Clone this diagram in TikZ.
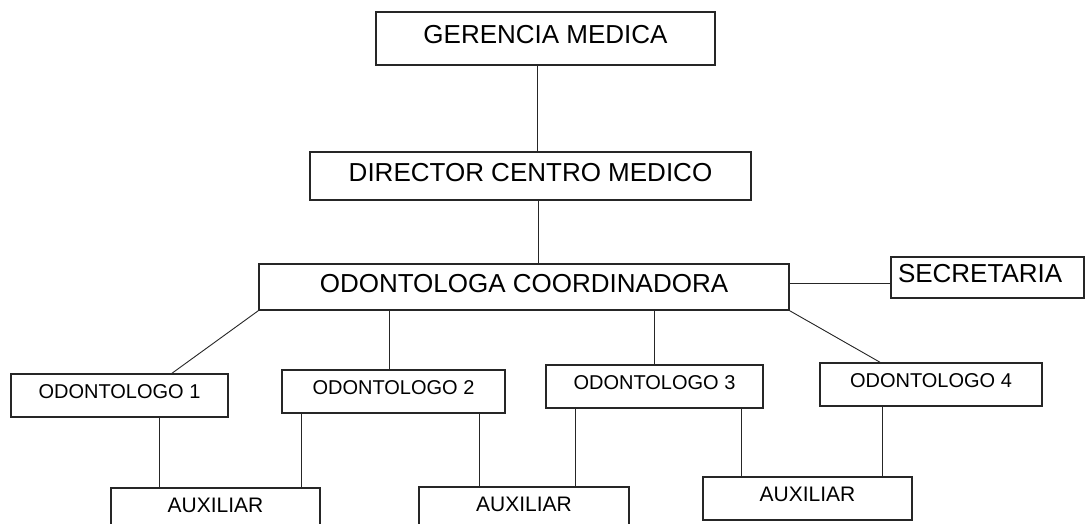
\documentclass[tikz,border=0pt]{standalone}
\usepackage{fontspec}
\setmainfont{Liberation Sans}
\begin{document}
\begin{tikzpicture}[x=1pt,y=-1pt,
  box/.style={draw=black!85, line width=1.5pt, inner sep=0pt, anchor=center, text depth=8pt},
  bigtxt/.style={font=\fontsize{26}{28}\selectfont},
  midtxt/.style={font=\fontsize{20}{22}\selectfont},
  auxtxt/.style={font=\fontsize{21}{23}\selectfont},
  conn/.style={draw=black!85, line width=0.9pt}]
\useasboundingbox (0,0) rectangle (1088,524);
\clip (0,0) rectangle (1088,524);
\fill[white] (0,0) rectangle (1088,524);
% top levels
\node[box,bigtxt,minimum width=339pt,minimum height=53pt] (gm) at (545.5,38.5) {GERENCIA MEDICA};
\node[box,bigtxt,minimum width=441pt,minimum height=48pt] (dir) at (530.5,176) {DIRECTOR CENTRO MEDICO};
\node[box,bigtxt,minimum width=530pt,minimum height=46pt] (odc) at (524,287) {ODONTOLOGA COORDINADORA};
\node[box,bigtxt,minimum width=193pt,minimum height=41pt,text width=179pt,align=left] (sec) at (987.5,277.5) {SECRETARIA};
% odontologos
\node[box,midtxt,minimum width=217pt,minimum height=43pt] (od1) at (119.5,395.5) {ODONTOLOGO 1};
\node[box,midtxt,minimum width=223pt,minimum height=43pt] (od2) at (393.5,391.5) {ODONTOLOGO 2};
\node[box,midtxt,minimum width=217pt,minimum height=43pt] (od3) at (654.5,386.5) {ODONTOLOGO 3};
\node[box,midtxt,minimum width=222pt,minimum height=43pt] (od4) at (931,384.5) {ODONTOLOGO 4};
% auxiliares
\node[box,auxtxt,minimum width=209pt,minimum height=43pt] (aux1) at (215.5,509.5) {AUXILIAR};
\node[box,auxtxt,minimum width=210pt,minimum height=43pt] (aux2) at (524,508.5) {AUXILIAR};
\node[box,auxtxt,minimum width=209pt,minimum height=43pt] (aux3) at (807.5,498.5) {AUXILIAR};
% connectors
\draw[conn] ([xshift=-8.5pt]gm.south) -- ([xshift=-8.5pt]gm.south |- dir.north);
\draw[conn] ([xshift=7.5pt]dir.south) -- ([xshift=7.5pt]dir.south |- odc.north);
\draw[conn] ([yshift=4pt]odc.east) -- ([yshift=4pt]odc.east -| sec.west);
\draw[conn] (odc.south west) -- ([xshift=52.5pt]od1.north);
\draw[conn] ([xshift=-4.5pt]od2.north |- odc.south) -- ([xshift=-4.5pt]od2.north);
\draw[conn] (od3.north |- odc.south) -- (od3.north);
\draw[conn] (odc.south east) -- ([xshift=-51pt]od4.north);
\draw[conn] ([xshift=39.5pt]od1.south) -- ([xshift=39.5pt]od1.south |- aux1.north);
\draw[conn] ([xshift=-92.5pt]od2.south) -- ([xshift=-92.5pt]od2.south |- aux1.north);
\draw[conn] ([xshift=85.5pt]od2.south) -- ([xshift=85.5pt]od2.south |- aux2.north);
\draw[conn] ([xshift=-79.5pt]od3.south) -- ([xshift=-79.5pt]od3.south |- aux2.north);
\draw[conn] ([xshift=86.5pt]od3.south) -- ([xshift=86.5pt]od3.south |- aux3.north);
\draw[conn] ([xshift=-49pt]od4.south) -- ([xshift=-49pt]od4.south |- aux3.north);
\end{tikzpicture}
\end{document}
